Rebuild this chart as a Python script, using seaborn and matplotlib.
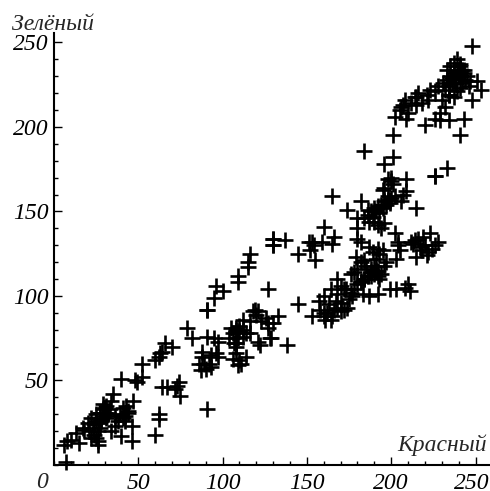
import matplotlib.pyplot as plt
import pandas as pd
import seaborn as sns
from matplotlib.ticker import MultipleLocator
from matplotlib.transforms import ScaledTranslation

# values, grouped by region of the cloud
red = [7, 6, 8, 10, 15, 13, 17, 20, 18, 21, 22, 24, 26, 26, 25, 27, 25, 27, 29, 31, 29, 27, 32, 34, 35, 34, 36, 36,
       40, 39, 41, 42, 43, 44, 47, 46, 42, 40, 46, 48, 49, 52, 52, 60, 62, 64, 66, 63, 70,
       23, 24, 26, 28, 30, 31, 33, 28, 30, 32, 22, 25, 27, 29, 38, 44, 41,
       60, 62, 62, 64, 67, 73, 74, 72, 75, 79, 82, 91, 91, 91, 95, 97,
       86, 88, 87, 89, 92, 93, 93, 96, 97, 90, 88,
       105, 108, 110, 112, 108, 114, 106, 110, 104, 109, 108, 111,
       108, 110, 112, 106, 114, 109, 108, 116, 107, 121, 122, 129, 112,
       130, 130, 116, 115, 115, 109, 109, 96, 100, 95, 91, 127, 119, 120, 123, 127, 130, 126, 133,
       121, 127, 138, 118, 116, 128, 137, 130, 130, 145, 145, 151, 153, 152, 154, 155, 159, 160, 165, 166,
       157, 160, 164, 168, 172, 172, 174, 170, 166, 162, 153, 160, 161, 158, 163, 167, 170, 175, 165, 168, 160, 164,
       173, 170, 168, 176, 178, 180, 182, 184, 186, 188, 190, 192, 177, 183, 187, 192, 199, 203, 208, 210, 211,
       176, 178, 180, 182, 184, 186, 188, 185, 182, 179, 190, 191, 193, 189, 187, 184,
       192, 191, 193, 195, 197, 188, 196, 194, 192, 202, 204, 205, 203, 204,
       212, 214, 216, 218, 220, 222, 224, 226, 228, 221, 217, 213, 215, 219, 223,
       165, 182, 174, 215, 206, 180, 180, 180, 182,
       184, 186, 188, 190, 192, 194, 196, 198, 200, 202, 187, 189, 191, 193, 195, 197, 199, 190, 192, 194, 196, 186,
       226, 209, 200, 198, 201, 196, 201, 196, 200, 198, 209, 207, 195, 199, 201, 184,
       202, 205, 207, 208, 210, 212, 214, 215, 216, 209, 206, 218, 221, 223, 215, 222, 226,
       248, 253, 248, 251, 243, 241, 233, 226, 220, 226, 229, 234, 232, 230, 234, 229, 228,
       231, 233, 235, 237, 239, 241, 243, 245, 247, 232, 234, 236, 238, 240, 242, 244, 246,
       233, 235, 237, 239, 241, 243, 236, 238, 240, 242, 234, 237, 239, 241, 238]
green = [2, 12, 14, 15, 13, 19, 22, 25, 21, 20, 28, 18, 12, 14, 16, 25, 30, 31, 33, 35, 29, 22, 30, 38, 42, 20, 23, 29,
         51, 30, 34, 29, 35, 32, 38, 23, 26, 17, 14, 50, 49, 52, 60, 62, 64, 67, 72, 66, 70,
         22, 24, 20, 27, 31, 28, 33, 26, 34, 31, 16, 26, 31, 36, 26, 31, 28,
         18, 30, 27, 46, 46, 47, 49, 45, 41, 81, 75, 92, 33, 76, 75, 73,
         60, 64, 56, 60, 60, 65, 58, 66, 64, 57, 67,
         81, 80, 82, 76, 70, 64, 63, 62, 75, 59, 66, 60,
         81, 79, 80, 78, 78, 75, 72, 78, 72, 73, 71, 75, 86,
         134, 130, 125, 120, 117, 112, 108, 106, 103, 99, 92, 104, 92, 89, 85, 81, 84, 87, 88,
         91, 84, 71, 91, 85, 75, 133, 134, 130, 125, 95, 132, 132, 127, 130, 121, 132, 141, 131, 135,
         97, 100, 104, 101, 104, 92, 93, 91, 92, 90, 88, 88, 86, 92, 95, 97, 96, 98, 88, 93, 90, 86,
         104, 106, 110, 102, 104, 107, 109, 110, 112, 112, 113, 115, 100, 101, 100, 101, 104, 104, 105, 107, 103,
         113, 114, 116, 108, 110, 112, 114, 118, 120, 123, 118, 115, 110, 126, 129, 121,
         128, 122, 125, 127, 120, 116, 118, 113, 112, 137, 132, 127, 122, 130,
         132, 133, 134, 127, 130, 126, 128, 130, 132, 124, 129, 131, 123, 135, 137,
         159, 156, 151, 152, 156, 146, 140, 134, 132,
         146, 148, 150, 152, 153, 154, 156, 157, 158, 159, 144, 147, 150, 149, 152, 154, 157, 144, 142, 140, 143, 151,
         171, 169, 170, 169, 166, 164, 182, 178, 168, 159, 162, 160, 163, 155, 195, 186,
         206, 210, 213, 216, 208, 214, 218, 213, 220, 205, 212, 214, 219, 222, 218, 216, 221,
         248, 222, 216, 227, 205, 195, 176, 171, 201, 205, 204, 204, 212, 216, 219, 208, 224,
         226, 228, 230, 232, 234, 236, 232, 230, 227, 222, 224, 226, 229, 231, 234, 228, 224,
         234, 236, 238, 240, 237, 234, 229, 226, 232, 226, 219, 218, 221, 223, 228]
x_labels = [50, 100, 150, 200, 250]
y_labels = [50, 100, 150, 200, 250]

df = pd.DataFrame({"red": red, "green": green})

sns.set_style("white")
plt.rcParams["font.family"] = ["Liberation Serif", "DejaVu Serif"]

fig = plt.figure(figsize=(4.9, 4.91), dpi=100)
ax = fig.add_axes([54 / 490, 26 / 491, 436 / 490, 432 / 491])

sns.scatterplot(data=df, x="red", y="green", ax=ax, marker="+", s=125, color="black", linewidth=1.9, clip_on=False)

ax.set_xlim(0, 258.6)
ax.set_ylim(0, 255.6)
ax.set_xlabel("")
ax.set_ylabel("")
sns.despine(ax=ax)
for side in ["left", "bottom"]:
    ax.spines[side].set_color("black")
    ax.spines[side].set_linewidth(1.5)

ax.set_xticks(x_labels)
ax.set_yticks(y_labels)
ax.xaxis.set_minor_locator(MultipleLocator(10))
ax.yaxis.set_minor_locator(MultipleLocator(10))
ax.tick_params(which="major", direction="in", length=5.5, width=1, color="black", bottom=True, left=True)
ax.tick_params(which="minor", direction="in", length=3, width=1, color="black", bottom=True, left=True)
ax.tick_params(axis="x", which="major", pad=5.5)
ax.tick_params(axis="y", which="major", pad=4)
for lab in ax.get_xticklabels() + ax.get_yticklabels():
    lab.set_fontsize(17)
    lab.set_fontstyle("italic")
    lab.set_color("black")

# last x label sits a bit left of its tick so it stays inside the picture
last = ax.get_xticklabels()[-1]
last.set_transform(last.get_transform() + ScaledTranslation(-4 / 100, 0, fig.dpi_scale_trans))

ax.annotate("0", xy=(0, 0), xycoords="axes fraction", xytext=(-12, -18), textcoords="offset pixels",
            ha="center", va="center", fontsize=17, fontstyle="italic")
ax.annotate("Красный", xy=(1, 0), xycoords="axes fraction", xytext=(-3, 20), textcoords="offset pixels",
            ha="right", va="center", fontsize=17, fontstyle="italic")
ax.annotate("Зелёный", xy=(0, 1), xycoords="axes fraction", xytext=(-42, 9), textcoords="offset pixels",
            ha="left", va="center", fontsize=17, fontstyle="italic")

fig.savefig("out.png", dpi=100)
